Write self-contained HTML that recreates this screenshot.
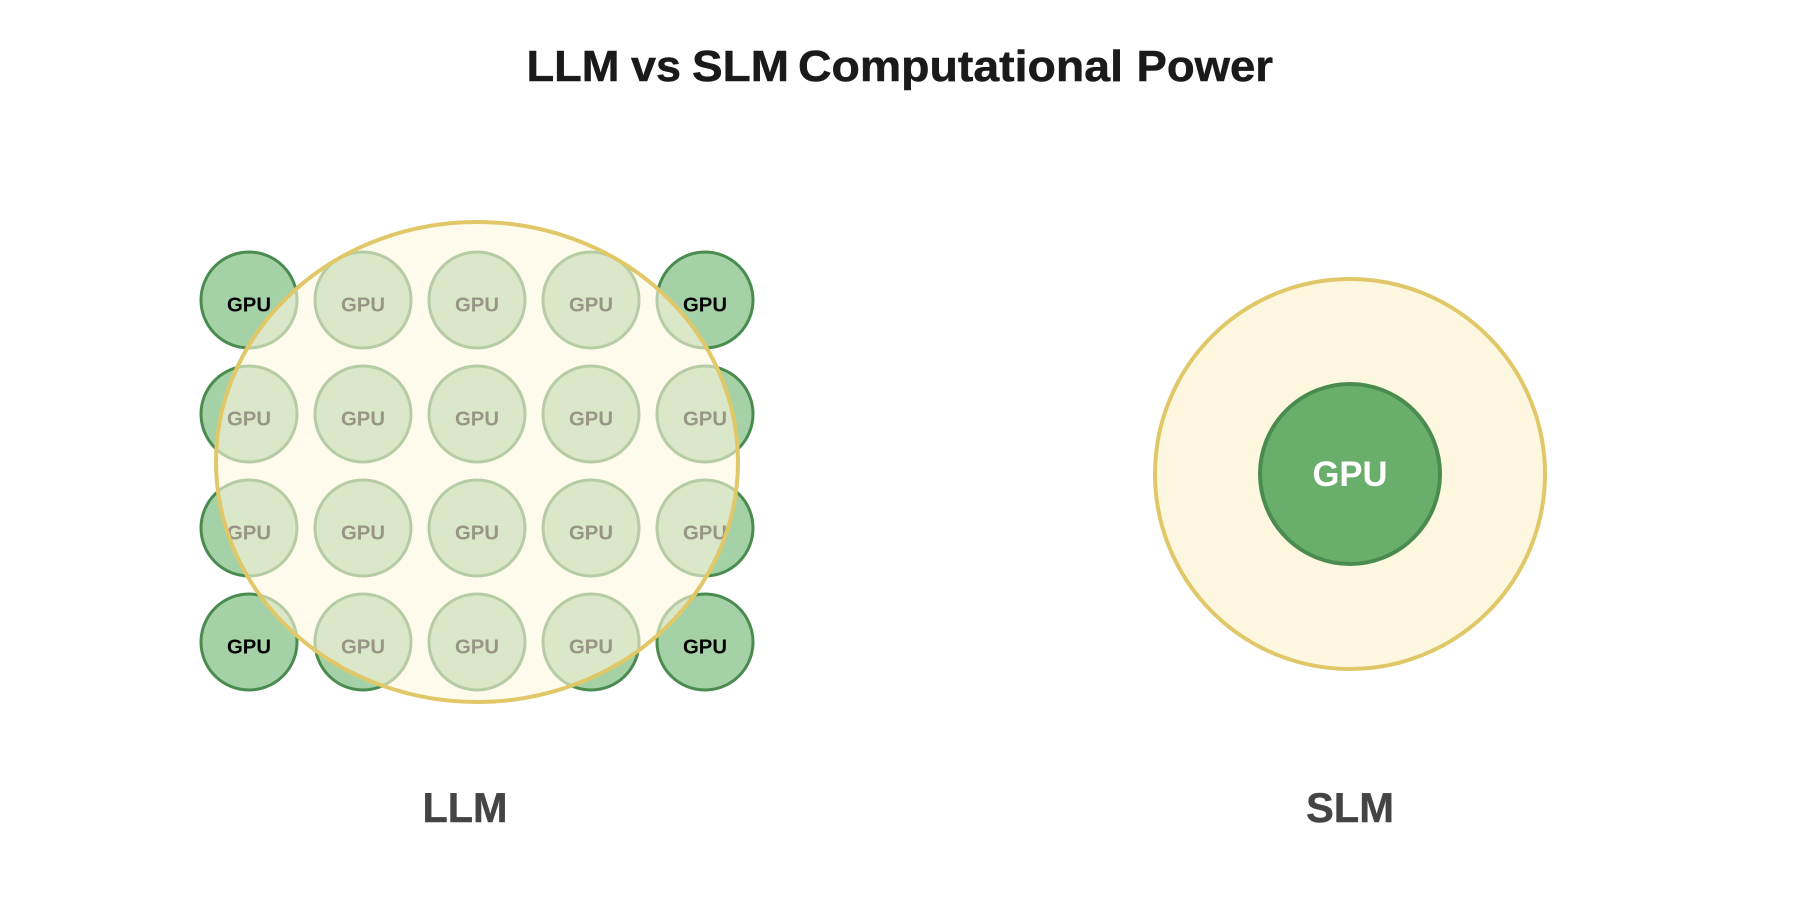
<!DOCTYPE html>
<html>
<head>
<meta charset="utf-8">
<style>
html,body{margin:0;padding:0;background:#fff;width:1800px;height:900px;overflow:hidden}
svg{display:block}
text{font-family:"Liberation Sans",sans-serif;font-weight:bold;text-anchor:middle}
.g{fill:#a5d1a7;stroke:#4a8c4f;stroke-width:3}
.t{font-size:20px;fill:#000}
</style>
</head>
<body>
<svg width="1800" height="900" viewBox="0 0 1800 900" xmlns="http://www.w3.org/2000/svg">
<rect width="1800" height="900" fill="#fff"/>
<text y="81" font-size="44" fill="#1a1a1a" stroke="#1a1a1a" stroke-width="0.5" style="text-anchor:start"><tspan x="526.500" textLength="93" lengthAdjust="spacingAndGlyphs">LLM</tspan> <tspan x="631" textLength="50" lengthAdjust="spacingAndGlyphs">vs</tspan> <tspan x="692" textLength="97" lengthAdjust="spacingAndGlyphs">SLM</tspan> <tspan x="798" textLength="325" lengthAdjust="spacingAndGlyphs">Computational</tspan> <tspan x="1136.500" textLength="136.500" lengthAdjust="spacingAndGlyphs">Power</tspan></text>

<circle class="g" cx="249" cy="300" r="48"/><text class="t" x="249" y="311.500" textLength="44" lengthAdjust="spacingAndGlyphs">GPU</text>
<circle class="g" cx="363" cy="300" r="48"/><text class="t" x="363" y="311.500" textLength="44" lengthAdjust="spacingAndGlyphs">GPU</text>
<circle class="g" cx="477" cy="300" r="48"/><text class="t" x="477" y="311.500" textLength="44" lengthAdjust="spacingAndGlyphs">GPU</text>
<circle class="g" cx="591" cy="300" r="48"/><text class="t" x="591" y="311.500" textLength="44" lengthAdjust="spacingAndGlyphs">GPU</text>
<circle class="g" cx="705" cy="300" r="48"/><text class="t" x="705" y="311.500" textLength="44" lengthAdjust="spacingAndGlyphs">GPU</text>

<circle class="g" cx="249" cy="414" r="48"/><text class="t" x="249" y="425.500" textLength="44" lengthAdjust="spacingAndGlyphs">GPU</text>
<circle class="g" cx="363" cy="414" r="48"/><text class="t" x="363" y="425.500" textLength="44" lengthAdjust="spacingAndGlyphs">GPU</text>
<circle class="g" cx="477" cy="414" r="48"/><text class="t" x="477" y="425.500" textLength="44" lengthAdjust="spacingAndGlyphs">GPU</text>
<circle class="g" cx="591" cy="414" r="48"/><text class="t" x="591" y="425.500" textLength="44" lengthAdjust="spacingAndGlyphs">GPU</text>
<circle class="g" cx="705" cy="414" r="48"/><text class="t" x="705" y="425.500" textLength="44" lengthAdjust="spacingAndGlyphs">GPU</text>

<circle class="g" cx="249" cy="528" r="48"/><text class="t" x="249" y="539.500" textLength="44" lengthAdjust="spacingAndGlyphs">GPU</text>
<circle class="g" cx="363" cy="528" r="48"/><text class="t" x="363" y="539.500" textLength="44" lengthAdjust="spacingAndGlyphs">GPU</text>
<circle class="g" cx="477" cy="528" r="48"/><text class="t" x="477" y="539.500" textLength="44" lengthAdjust="spacingAndGlyphs">GPU</text>
<circle class="g" cx="591" cy="528" r="48"/><text class="t" x="591" y="539.500" textLength="44" lengthAdjust="spacingAndGlyphs">GPU</text>
<circle class="g" cx="705" cy="528" r="48"/><text class="t" x="705" y="539.500" textLength="44" lengthAdjust="spacingAndGlyphs">GPU</text>

<circle class="g" cx="249" cy="642" r="48"/><text class="t" x="249" y="653.500" textLength="44" lengthAdjust="spacingAndGlyphs">GPU</text>
<circle class="g" cx="363" cy="642" r="48"/><text class="t" x="363" y="653.500" textLength="44" lengthAdjust="spacingAndGlyphs">GPU</text>
<circle class="g" cx="477" cy="642" r="48"/><text class="t" x="477" y="653.500" textLength="44" lengthAdjust="spacingAndGlyphs">GPU</text>
<circle class="g" cx="591" cy="642" r="48"/><text class="t" x="591" y="653.500" textLength="44" lengthAdjust="spacingAndGlyphs">GPU</text>
<circle class="g" cx="705" cy="642" r="48"/><text class="t" x="705" y="653.500" textLength="44" lengthAdjust="spacingAndGlyphs">GPU</text>

<ellipse cx="477" cy="462" rx="261" ry="240" fill="#fef7e0" fill-opacity="0.6" stroke="#e0c868" stroke-width="4"/>

<circle cx="1350" cy="474" r="195" fill="#fef7e0" stroke="#e0c868" stroke-width="4"/>
<circle cx="1350" cy="474" r="90" fill="#6aae6c" stroke="#4a8c4f" stroke-width="4"/>
<text x="1350" y="486" font-size="35" fill="#fff" textLength="75" lengthAdjust="spacingAndGlyphs">GPU</text>

<text x="465" y="822" font-size="42" fill="#444" stroke="#444" stroke-width="0.4" textLength="85" lengthAdjust="spacingAndGlyphs">LLM</text>
<text x="1350" y="822" font-size="42" fill="#444" stroke="#444" stroke-width="0.4" textLength="88" lengthAdjust="spacingAndGlyphs">SLM</text>
</svg>
</body>
</html>
